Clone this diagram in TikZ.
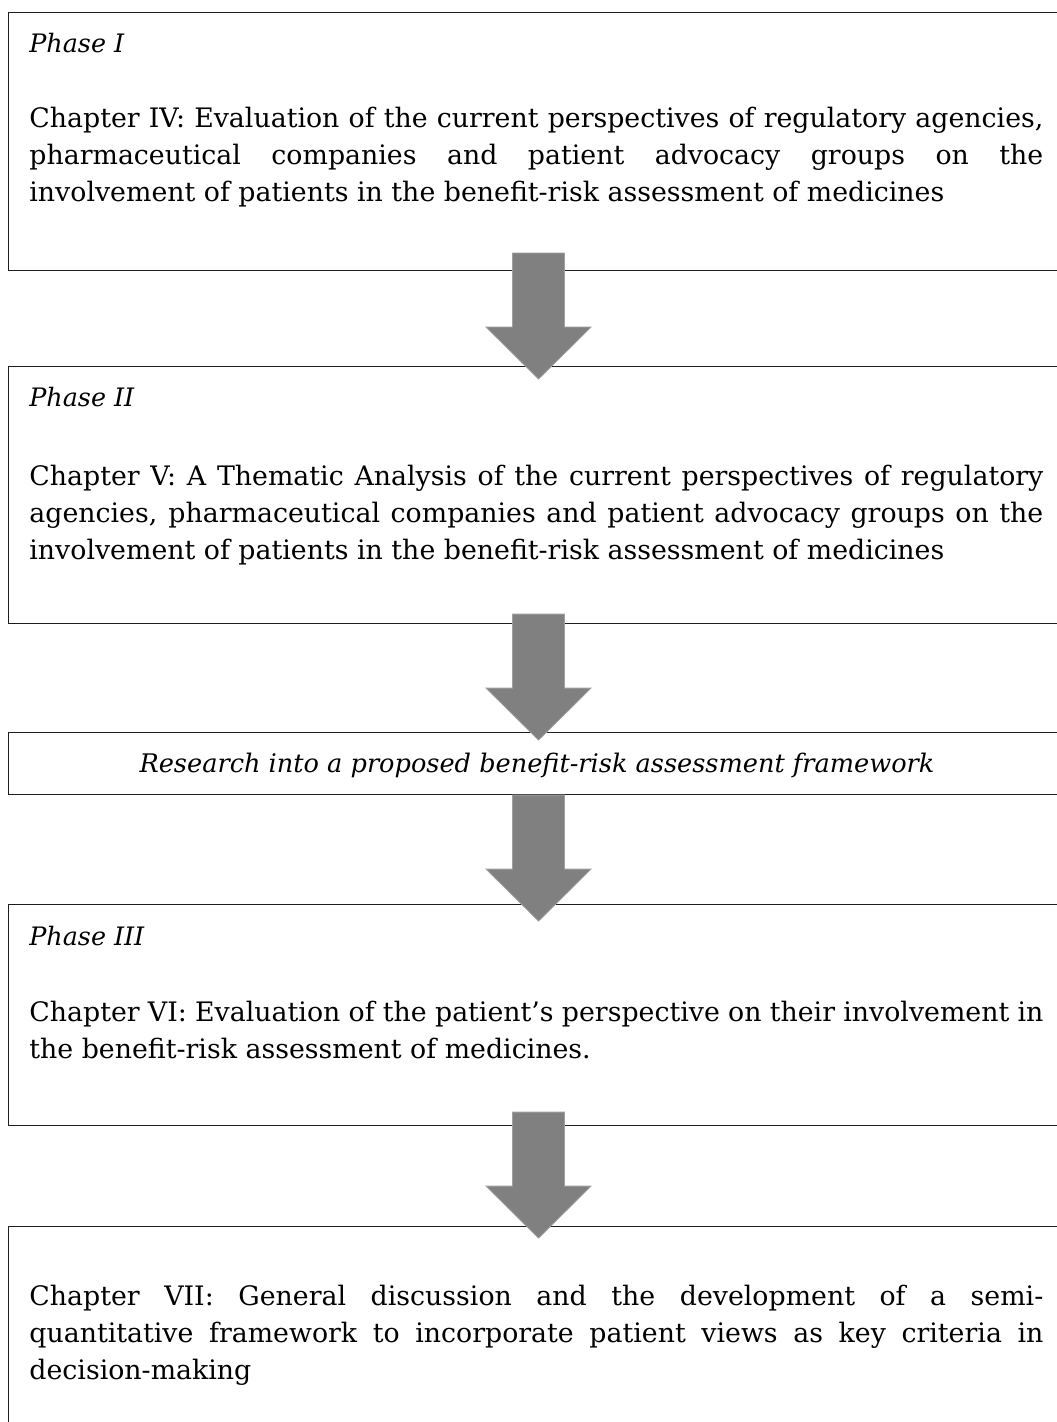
\documentclass[tikz,border=0pt]{standalone}
\usepackage{fontspec}
\setmainfont{DejaVu Serif}
\usetikzlibrary{calc}
\definecolor{arrowgray}{HTML}{808080}
\definecolor{arrowedge}{HTML}{A0A0A0}
\definecolor{boxline}{HTML}{1E1E1E}

\newcommand{\blockarrow}[1]{%
  \draw[fatarrow] ($(#1)+(-26,0)$) -- ($(#1)+(26,0)$) -- ($(#1)+(26,74)$)
    -- ($(#1)+(52.5,74)$) -- ($(#1)+(0,126)$) -- ($(#1)+(-52.5,74)$)
    -- ($(#1)+(-26,74)$) -- cycle;}

\begin{document}
\begin{tikzpicture}[
  x=0.5pt, y=-0.5pt,
  font=\fontsize{13.4}{18.5}\selectfont,
  phasebox/.style={draw=boxline, line width=0.55pt, anchor=north west,
    minimum width=525pt, inner sep=0pt},
  phaselabel/.style={anchor=base west, inner sep=0pt, font=\fontsize{12.7}{18.5}\selectfont\itshape},
  boxtext/.style={anchor=base west, text width=507pt, align=justify, inner sep=0pt,
    execute at begin node={\hyphenpenalty=10000\exhyphenpenalty=10000}},
  fatarrow/.style={fill=arrowgray, draw=arrowedge, line width=0.4pt}
]
\useasboundingbox (0,0) rectangle (1056,1422);

% -- boxes, top to bottom
\node[phasebox, minimum height=129pt]   (phase1)   at (8,12) {};
\node[phasebox, minimum height=128.5pt] (phase2)   at (8,366) {};
\node[phasebox, minimum height=31pt]    (research) at (8,732) {};
\node[phasebox, minimum height=110.5pt] (phase3)   at (8,904) {};
\node[phasebox, minimum height=110pt]   (final)    at (8,1226) {};

% -- texts
\node[phaselabel] (p1lab) at ($(phase1.north west)+(21,41)$) {Phase I};
\node[boxtext] (p1txt) at ($(phase1.north west)+(21,116)$)
  {Chapter IV: Evaluation of the current perspectives of regulatory agencies,\linebreak
   pharmaceutical companies and patient advocacy groups on the\linebreak
   involvement of patients in the benefit-risk assessment of medicines};

\node[phaselabel] (p2lab) at ($(phase2.north west)+(21,41)$) {Phase II};
\node[boxtext] (p2txt) at ($(phase2.north west)+(21,119)$)
  {Chapter V: A Thematic Analysis of the current perspectives of regulatory\linebreak
   agencies, pharmaceutical companies and patient advocacy groups on the\linebreak
   involvement of patients in the benefit-risk assessment of medicines};

\node[anchor=base, inner sep=0pt, font=\fontsize{12.8}{18.5}\selectfont\itshape] (restxt)
  at ($(research.north west)+(529,40)$)
  {Research into a proposed benefit-risk assessment framework};

\node[phaselabel] (p3lab) at ($(phase3.north west)+(21,41)$) {Phase III};
\node[boxtext] (p3txt) at ($(phase3.north west)+(21,117)$)
  {Chapter VI: Evaluation of the patient’s perspective on their involvement in\linebreak
   the benefit-risk assessment of medicines.};

\node[boxtext] (fintxt) at ($(final.north west)+(21,79)$)
  {Chapter VII: General discussion and the development of a semi-\linebreak
   quantitative framework to incorporate patient views as key criteria in\linebreak
   decision-making};

% -- block arrows between the boxes
\coordinate (a1) at ($(phase1.south)+(5,-18)$);
\coordinate (a2) at ($(phase2.south)+(5,-10)$);
\coordinate (a3) at ($(research.south)+(5,0)$);
\coordinate (a4) at ($(phase3.south)+(5,-14)$);
\foreach \a in {a1,a2,a3,a4}
  \blockarrow{\a};
\end{tikzpicture}
\end{document}
